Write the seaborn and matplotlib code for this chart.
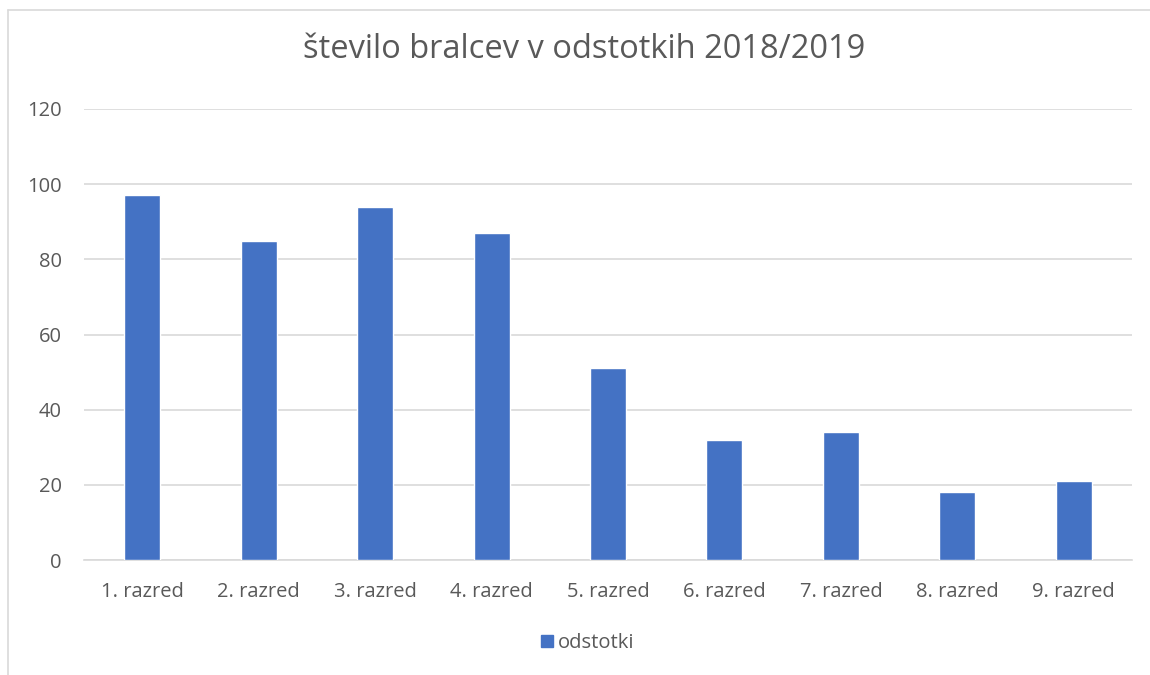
import matplotlib
matplotlib.use("Agg")
import matplotlib.pyplot as plt
import seaborn as sns
from matplotlib.lines import Line2D

categories = ["1. razred", "2. razred", "3. razred", "4. razred", "5. razred",
              "6. razred", "7. razred", "8. razred", "9. razred"]
values = [97, 85, 94, 87, 51, 32, 34, 18, 21]
series_name = "odstotki"
title = "število bralcev v odstotkih 2018/2019"
yticks = [0, 20, 40, 60, 80, 100, 120]

sns.set_theme(style="white")
plt.rcParams['font.family'] = ['Open Sans', 'DejaVu Sans']

bar_color = "#4472C4"
text_color = "#595959"
grid_color = "#D9D9D9"

fig = plt.figure(figsize=(11.5, 6.75), dpi=100)
ax = fig.add_axes([84/1150, 1-560/675, (1132-84)/1150, (560-109)/675])

sns.barplot(x=categories, y=values, color=bar_color, width=0.31,
            saturation=1, ax=ax, label=series_name, zorder=3)

ax.set_ylim(0, 120)
ax.set_yticks(yticks)
ax.set_xlim(-0.5, len(categories)-0.5)
ax.yaxis.grid(True, color=grid_color, linewidth=1.2, zorder=0)
ax.xaxis.grid(False)
for s in ["top", "right", "left"]:
    ax.spines[s].set_visible(False)
ax.spines["bottom"].set_color(grid_color)
ax.spines["bottom"].set_linewidth(1.2)
ax.tick_params(axis="both", length=0, labelsize=14.5, colors=text_color)
ax.tick_params(axis="x", pad=16)
ax.tick_params(axis="y", pad=16)
ax.set_xlabel("")
ax.set_ylabel("")

fig.text(0.508, 1-50/675, title, ha="center", va="center", fontsize=23.5, color=text_color)

if ax.get_legend() is not None:
    ax.get_legend().remove()
handle = Line2D([], [], marker="s", linestyle="none", markersize=8,
                markerfacecolor=bar_color, markeredgecolor=bar_color)
fig.legend([handle], [series_name], loc="center", bbox_to_anchor=(0.510, 1-643/675),
           frameon=False, fontsize=14.5, labelcolor=text_color,
           handletextpad=0.15, handlelength=0.8)

# chart border
fig.add_artist(Line2D([8/1150, 8/1150], [0, 1-10/675], transform=fig.transFigure,
                      color="#D9D9D9", linewidth=1.2))
fig.add_artist(Line2D([8/1150, 1], [1-10/675, 1-10/675], transform=fig.transFigure,
                      color="#D9D9D9", linewidth=1.2))

fig.savefig("out.png", dpi=100)
